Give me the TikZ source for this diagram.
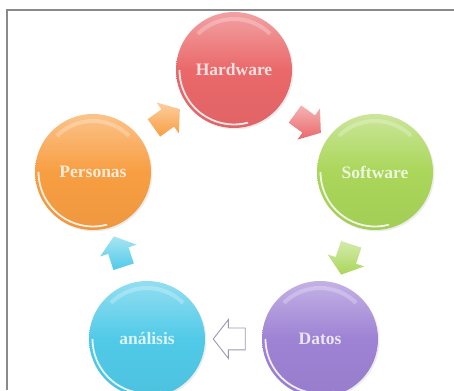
\documentclass[tikz,border=0pt]{standalone}
\usepackage{fontspec}
\setmainfont{Liberation Serif}
\usetikzlibrary{shapes.arrows,shadows,calc}
\definecolor{frame}{RGB}{138,138,138}
\definecolor{hwred}{RGB}{234,104,106}
\definecolor{swgreen}{RGB}{170,214,90}
\definecolor{dtpurple}{RGB}{158,130,212}
\definecolor{ancyan}{RGB}{80,202,232}
\definecolor{peorange}{RGB}{248,158,66}
\definecolor{hollow}{RGB}{160,150,185}

\begin{document}
\begin{tikzpicture}[x=1pt, y=1pt,
  ball/.style={circle, minimum size=116pt, inner sep=0pt,
    top color=#1!62!white, bottom color=#1!96!black, middle color=#1,
    font=\fontsize{17.5}{20}\selectfont\bfseries, text=white!80!#1,
    drop shadow={opacity=0.15, shadow xshift=1.5pt, shadow yshift=-1.5pt},
    path picture={
      \draw[white, line width=1.8pt, opacity=0.85]
        ($(path picture bounding box.center)+(180:54.5pt)$) arc[start angle=180, end angle=285, radius=54.5pt];
      \draw[white, line width=4pt, opacity=0.25]
        ($(path picture bounding box.center)+(45:51pt)$) arc[start angle=45, end angle=135, radius=51pt];
    }},
  flow/.style={single arrow, minimum height=32pt, text height=10.5pt, text depth=10.5pt,
    single arrow head extend=8.5pt, single arrow tip angle=104, inner sep=0pt,
    top color=#1!50!white, bottom color=#1},
  openflow/.style={single arrow, minimum height=32pt, text height=10.5pt, text depth=10.5pt,
    single arrow head extend=8.5pt, single arrow tip angle=104, inner sep=0pt,
    draw=hollow, fill=white, line width=0.9pt}]
\useasboundingbox (0,0) rectangle (454,390);
% frame
\draw[frame, line width=1.3pt] (7,0) -- (7,380) -- (454,380);
% cycle
\node[ball=hwred] (hw) at (234,320) {Hardware};
\node[ball=swgreen] (sw) at (375,218) {Software};
\node[ball=dtpurple] (dt) at (320,51) {Datos};
\node[ball=ancyan] (an) at (147,51) {análisis};
\node[ball=peorange] (pe) at (93,218) {Personas};
% arrows between the steps
\path (hw) -- (sw) node[midway, sloped, allow upside down, flow=hwred] (a1) {};
\path (sw) -- (dt) node[midway, sloped, allow upside down, flow=swgreen] (a2) {};
\path (dt) -- (an) node[midway, sloped, allow upside down, openflow] (a3) {};
\path (an) -- (pe) node[midway, sloped, allow upside down, flow=ancyan] (a4) {};
\path (pe) -- (hw) node[midway, sloped, allow upside down, flow=peorange] (a5) {};
\end{tikzpicture}
\end{document}
